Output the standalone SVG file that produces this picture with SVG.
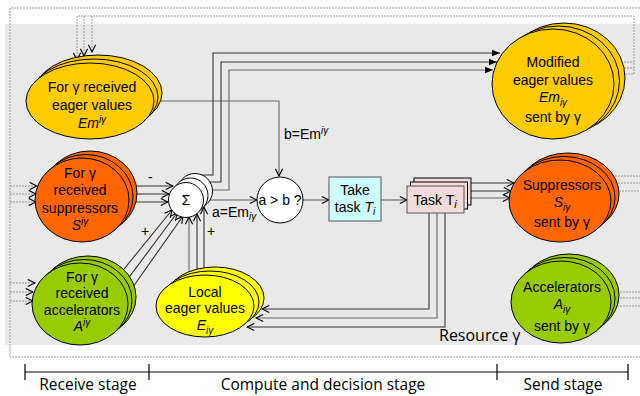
<svg xmlns="http://www.w3.org/2000/svg" width="640" height="396" viewBox="0 0 640 396">
<defs>
<style>
.t{font-family:"Liberation Sans",Arial,sans-serif;font-size:14px;fill:#000;text-anchor:middle}
.c{font-family:"Liberation Sans",Arial,sans-serif;fill:#000}
.k{font-family:"Open Sans","Liberation Sans",sans-serif;fill:#000}
.ln{fill:none;stroke:#333;stroke-width:1.1}
.lg{fill:none;stroke:#666;stroke-width:1.1}
.dt{fill:none;stroke:#999;stroke-width:1;stroke-dasharray:2 1}
.nd{stroke:#000;stroke-width:1}
.y{fill:#FFCC00}.o{fill:#FF6600}.g{fill:#99CC00}.yy{fill:#FFFF00}.w{fill:#fff}
</style>
<marker id="oa" viewBox="0 0 10 10" refX="9" refY="5" markerWidth="9" markerHeight="9" markerUnits="userSpaceOnUse" orient="auto"><path d="M1,1 L9,5 L1,9" fill="none" stroke="#000" stroke-width="1.2"/></marker>
<marker id="fa" viewBox="0 0 10 10" refX="10" refY="5" markerWidth="8" markerHeight="8" markerUnits="userSpaceOnUse" orient="auto"><path d="M0,1 L10,5 L0,9 Z" fill="#000"/></marker>
</defs>
<rect x="5" y="24" width="635" height="321" fill="#e9e9e9"/>

<g id="connectors">
<path class="dt" d="M640,8 H10 V357 H640"/>
<path class="dt" d="M10,186 H37" marker-end="url(#oa)"/>
<path class="dt" d="M10,194 H36" marker-end="url(#oa)"/>
<path class="dt" d="M10,202 H36" marker-end="url(#oa)"/>
<path class="dt" d="M10,283 H35" marker-end="url(#oa)"/>
<path class="dt" d="M10,292 H33" marker-end="url(#oa)"/>
<path class="dt" d="M10,301 H33" marker-end="url(#oa)"/>
<path class="dt" d="M634,74 V16 H77 V60" marker-end="url(#oa)"/>
<path class="dt" d="M84,16 V56" marker-end="url(#oa)"/>
<path class="dt" d="M92,16 V52" marker-end="url(#oa)"/>
<path class="dt" d="M612,62 H634 M612,68 H634 M610,74 H634"/>
<path class="dt" d="M612,176 H640 M612,183 H640 M610,191 H640"/>
<path class="dt" d="M608,292 H640 M608,298 H640 M608,306 H640"/>

<path class="lg" d="M150,101 H279 V176" marker-end="url(#oa)"/>
<path class="ln" d="M200,175 H213 V53 H500" marker-end="url(#fa)"/>
<path class="ln" d="M204,182 H221 V62 H497" marker-end="url(#fa)"/>
<path class="lg" d="M206,190 H229 V70 H493" marker-end="url(#fa)"/>
<path class="lg" d="M200,200 H257" marker-end="url(#oa)"/>
<path class="lg" d="M303,200 H329" marker-end="url(#oa)"/>
<path class="lg" d="M381,200 H407" marker-end="url(#oa)"/>
<path class="ln" d="M465,183 H514" marker-end="url(#oa)"/>
<path class="ln" d="M465,191 H511" marker-end="url(#oa)"/>
<path class="lg" d="M460,198 H510" marker-end="url(#oa)"/>
<path class="ln" d="M429,210 V309 H262" marker-end="url(#oa)"/>
<path class="lg" d="M437,210 V318 H256" marker-end="url(#oa)"/>
<path class="ln" d="M445,210 V327 H247" marker-end="url(#oa)"/>
<path class="lg" d="M189,290 V217" marker-end="url(#oa)"/>
<path class="ln" d="M197,290 V214" marker-end="url(#oa)"/>
<path class="ln" d="M204,290 V207" marker-end="url(#oa)"/>
<path class="ln" d="M120,274 L172,210" marker-end="url(#oa)"/>
<path class="ln" d="M124,284 L177,213" marker-end="url(#oa)"/>
<path class="ln" d="M128,294 L183,216" marker-end="url(#oa)"/>
<path class="ln" d="M120,186 H173" marker-end="url(#oa)"/>
<path class="ln" d="M120,194 H169" marker-end="url(#oa)"/>
<path class="ln" d="M120,202 H168" marker-end="url(#oa)"/>
<text class="c" font-size="14" x="284" y="139">b=Em<tspan font-size="10" dy="-5" font-style="italic">iγ</tspan></text>
<text class="c" font-size="14" x="212" y="217">a=Em<tspan font-size="10" dy="3" font-style="italic">iγ</tspan></text>
<text class="c" font-size="14" x="148" y="182">-</text>
<text class="c" font-size="14" x="141" y="236">+</text>
<text class="c" font-size="14" x="207" y="236">+</text>
</g>

<g id="recv-eager">
<ellipse class="nd y" cx="98" cy="93" rx="64" ry="38"/>
<ellipse class="nd y" cx="94" cy="97" rx="64" ry="38"/>
<ellipse class="nd y" cx="90" cy="101" rx="64" ry="38"/>
<text class="t" x="92" y="92">For γ received</text>
<text class="t" x="92" y="110">eager values</text>
<text class="t" x="92" y="128" font-style="italic">Em<tspan font-size="10" dy="-5">iγ</tspan></text>
</g>

<g id="recv-supp">
<ellipse class="nd o" cx="90" cy="193" rx="47" ry="42"/>
<ellipse class="nd o" cx="86" cy="196.5" rx="47" ry="42"/>
<ellipse class="nd o" cx="82" cy="200" rx="47" ry="42"/>
<text class="t" x="80" y="178">For γ</text>
<text class="t" x="80" y="195">received</text>
<text class="t" x="80" y="213">suppressors</text>
<text class="t" x="80" y="230" font-style="italic">S<tspan font-size="10" dy="-5">iγ</tspan></text>
</g>

<g id="recv-acc">
<ellipse class="nd g" cx="88" cy="297" rx="48" ry="41"/>
<ellipse class="nd g" cx="84" cy="300.5" rx="48" ry="41"/>
<ellipse class="nd g" cx="80" cy="304" rx="48" ry="41"/>
<text class="t" x="82" y="282">For γ</text>
<text class="t" x="82" y="298">received</text>
<text class="t" x="82" y="315">accelerators</text>
<text class="t" x="82" y="331" font-style="italic">A<tspan font-size="10" dy="-5">iγ</tspan></text>
</g>

<g id="sigma">
<circle class="nd w" cx="195" cy="191" r="17.5"/>
<circle class="nd w" cx="190.5" cy="195.5" r="17.5"/>
<circle class="nd w" cx="186" cy="200" r="17.5"/>
<text class="t" x="186" y="205">Σ</text>
</g>

<g id="compare">
<circle class="nd w" cx="280" cy="200" r="23"/>
<text class="t" x="280" y="205" font-size="13">a &gt; b ?</text>
</g>

<g id="take-task">
<rect x="329" y="177" width="52" height="44" fill="#CCFFFF" stroke="#555" stroke-width="1"/>
<text class="t" x="355" y="195" font-size="13">Take</text>
<text class="t" x="355" y="212" font-size="13">task <tspan font-style="italic">T<tspan font-size="10" dy="3">i</tspan></tspan></text>
</g>

<g id="task">
<rect x="414" y="178" width="57" height="27" fill="#F2DCDB" stroke="#000" stroke-width="1"/>
<rect x="410.5" y="182" width="57" height="27" fill="#F2DCDB" stroke="#000" stroke-width="1"/>
<rect x="407" y="186" width="57" height="27" fill="#F2DCDB" stroke="#555" stroke-width="1"/>
<text class="t" x="435" y="205" font-size="15">Task T<tspan font-style="italic" font-size="11" dy="3">i</tspan></text>
</g>

<g id="modified">
<ellipse class="nd y" cx="564" cy="78" rx="61" ry="55"/>
<ellipse class="nd y" cx="558.5" cy="81" rx="61" ry="55"/>
<ellipse class="nd y" cx="553" cy="84" rx="61" ry="55"/>
<text class="t" x="553" y="67">Modified</text>
<text class="t" x="553" y="85">eager values</text>
<text class="t" x="553" y="102" font-style="italic">Em<tspan font-size="10" dy="4">iγ</tspan></text>
<text class="t" x="553" y="122">sent by γ</text>
</g>

<g id="sent-supp">
<ellipse class="nd o" cx="568" cy="194" rx="51" ry="41"/>
<ellipse class="nd o" cx="564" cy="197.5" rx="51" ry="41"/>
<ellipse class="nd o" cx="560" cy="201" rx="51" ry="41"/>
<text class="t" x="562" y="190">Suppressors</text>
<text class="t" x="562" y="207" font-style="italic">S<tspan font-size="10" dy="4">iγ</tspan></text>
<text class="t" x="562" y="227">sent by γ</text>
</g>

<g id="sent-acc">
<ellipse class="nd g" cx="569" cy="295" rx="50" ry="41"/>
<ellipse class="nd g" cx="565" cy="298.5" rx="50" ry="41"/>
<ellipse class="nd g" cx="561" cy="302" rx="50" ry="41"/>
<text class="t" x="562" y="292">Accelerators</text>
<text class="t" x="562" y="309" font-style="italic">A<tspan font-size="10" dy="4">iγ</tspan></text>
<text class="t" x="562" y="331">sent by γ</text>
</g>

<g id="local">
<ellipse class="nd yy" cx="215" cy="298" rx="49" ry="31"/>
<ellipse class="nd yy" cx="210" cy="302" rx="49" ry="31"/>
<ellipse class="nd yy" cx="205" cy="306" rx="49" ry="31"/>
<text class="t" x="205" y="297">Local</text>
<text class="t" x="205" y="313">eager values</text>
<text class="t" x="205" y="330" font-style="italic">E<tspan font-size="10" dy="4">iγ</tspan></text>
</g>

<text class="k" font-size="16" x="439" y="341">Resource γ</text>

<g id="stages">
<path d="M25,372 H628 M25,364 V380 M149,364 V380 M497,364 V380 M628,364 V380" fill="none" stroke="#000" stroke-width="1.2"/>
<text class="k" font-size="15.5" text-anchor="middle" x="88" y="390">Receive stage</text>
<text class="k" font-size="15.5" text-anchor="middle" x="323" y="390">Compute and decision stage</text>
<text class="k" font-size="15.5" text-anchor="middle" x="563" y="390">Send stage</text>
</g>
</svg>
